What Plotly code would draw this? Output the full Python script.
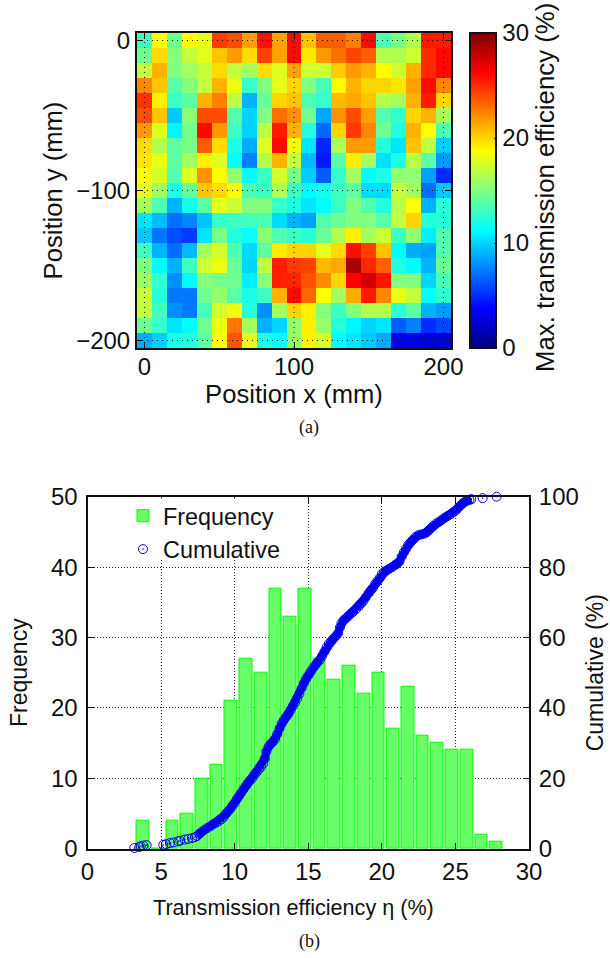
import plotly.graph_objects as go

W, H = 610, 958

# Panel (a): maximum transmission efficiency (%) per grid cell, row 0 is y = 0
pos_x = [10 * i for i in range(21)]
pos_y = [-10 * i for i in range(21)]
efficiency_map = [
    [13.2,18.75,14.5,18.8,18,24.5,24,21.5,25.8,21.5,26,20.5,23.5,23.5,22.5,26,13.5,14.8,16.5,25.5,25.5],
    [14.5,19.8,15.2,17,18,20.5,21.7,19.8,24.3,21.5,26,19.5,21.8,23,24.2,23.5,16.5,16.5,17.3,25,26],
    [17,21,15,16,17,19.8,17,16,19.7,17.8,21.5,17.3,17.3,20.3,21.7,21,18.8,17.3,21,25,26],
    [22.3,20.5,13.8,15.2,17,21,18.2,12.8,15,18,20,15,13.3,18.9,21,20,20,19.5,21.5,26,22.3],
    [24.8,19.2,13,14,21,22.5,16.8,9,14.3,20,20.5,13.5,12.8,20.8,21.3,20.5,16.5,16,21,25.5,20],
    [24,20.5,9.7,15.3,24,24,13.7,10,15,23,22,14.6,8.7,22,24,21.6,13.7,12.7,20,21,16],
    [21.7,17.8,11,14.7,26,21.8,13,10,16.8,25.5,21,12.2,6.8,20,24.5,22.3,14.5,12.3,21,18.8,13.5],
    [19.8,16.5,14,14.8,23.6,19.8,12,8.8,17.8,26,18.5,10.5,4.8,16.3,21.7,21.7,12.3,10.5,20.5,16.8,9.8],
    [19.5,18,14,16,19.2,17.8,11.3,7.5,16.5,21,17,9.2,4.5,13.8,19.3,16,10.4,12,16.7,14,8.3],
    [18.8,17.5,13.7,17.8,22,18.8,15.5,11.2,13,17.5,14.8,9.8,6.5,12.7,16,11.2,12,15.5,15.5,8.5,5],
    [18,16,12,14.3,20.5,19.8,18.6,13.5,13,16.5,13,11.1,11.8,13,14,10.2,10.2,17,16,7,9.7],
    [16,13.5,9,11.8,14,18,17.2,15,15,12.8,12,10.5,11.3,13,15,13.7,12.3,16.7,18.7,9,12.5],
    [10.5,9.3,7,7.7,9.5,12.8,13,13.2,13.5,10.2,9,8.5,13.7,14.4,15,15,13.8,16.9,20,12.3,12.3],
    [9.7,7.2,6,5.5,10.5,14.8,12.3,11.5,15.3,13.5,13,12.4,14.3,16.5,19.2,16,17.3,13,15.4,10.8,13.7],
    [13,9,7,9.2,16,17.5,13.5,10.2,14,19.3,20,20,18,19.8,25.8,24.4,20.5,11.2,8.8,8.5,13.7],
    [15,11.2,9,13,17.3,18.2,14.3,10,16.8,25.4,24.5,24.3,20.8,21.3,28.8,25.1,23.5,12.2,11.2,9,14.5],
    [15.8,12.8,8,11.2,15.2,14.8,14.5,10.8,15.2,25.3,25.2,23.8,22.2,20,26.3,27.5,25.7,15,15,10,13.3],
    [17.2,12.3,7.3,7.3,14.5,15.6,13.8,12,13,21,26,23.3,18.8,16,21.2,25.5,22.3,18,17,11.2,12.7],
    [17,13.2,8,7.3,13.3,17.5,18.3,12.3,8,16,20,19.2,15,13,15.2,16.5,16.5,12.5,14,9,8.3],
    [14.5,12.8,10.5,11.3,14.5,18.2,22.8,16,9,10,15.5,19.2,15.8,12.3,11,10,10.5,6.5,7.5,5,5.8],
    [8.8,9.8,12,12.3,14,18.7,23.8,18,12,11.2,15.8,19.1,17.5,11.3,10.5,9.7,8.7,3.3,3.3,2.8,3],
]
cbar_ticks = [0, 10, 20, 30]
a_ticks_x = [0, 100, 200]
a_ticks_y = [0, -100, -200]

# Panel (b): histogram
bin_centers = [3.77,4.77,5.77,6.77,7.77,8.77,9.77,10.77,11.77,12.77,13.77,14.77,15.77,
               16.77,17.77,18.77,19.77,20.77,21.77,22.77,23.77,24.77,25.77,26.77,27.77]
frequency = [4,0,4,5,10,12,21,27,25,37,33,37,27,24,26,22,25,17,23,16,15,14,14,2,1]

# Panel (b): cumulative curve, read along the ring markers
cum_x = [3.18,3.52,3.62,3.79,4.02,5.15,5.35,5.6,5.85,6.17,6.3,6.6,6.85,7.1,7.3,7.45,7.6,7.75,7.95,8.15,
         8.35,8.55,8.75,8.95,9.1,9.25,9.4,9.55,9.7,9.85,10.0,10.15,10.3,10.45,10.6,10.75,10.9,11.05,11.2,11.35,
         11.5,11.65,11.8,11.95,12.05,12.15,12.3,12.45,12.6,12.75,12.9,13.05,13.2,13.35,13.5,13.65,13.8,13.95,14.1,14.25,
         14.4,14.55,14.7,14.85,15.0,15.15,15.3,15.45,15.6,15.78,15.95,16.1,16.25,16.4,16.55,16.7,16.85,17.03,17.15,17.25,
         17.4,17.55,17.7,17.9,18.05,18.25,18.45,18.6,18.75,18.9,19.1,19.25,19.4,19.55,19.7,19.86,20.0,20.15,20.3,20.5,
         20.7,20.9,21.05,21.2,21.35,21.5,21.65,21.8,21.95,22.1,22.3,22.5,22.7,22.9,23.05,23.2,23.35,23.5,23.7,23.9,
         24.1,24.3,24.5,24.7,24.9,25.06,25.2,25.35,25.5,25.65,25.8,25.95,26.08,26.85,27.8]
cum_pct = [.2,.5,.7,.9,1.0,1.1,1.3,1.6,1.8,2.1,2.3,2.6,2.8,3.0,3.3,3.6,4.2,4.8,5.4,5.9,
           6.4,7.0,7.4,7.9,8.4,9.0,9.9,10.6,11.3,12.2,13.0,14.1,15.0,15.9,16.9,17.8,18.7,19.4,20.1,21.0,
           21.8,22.6,23.3,24.2,25.6,27.6,29.0,29.8,30.4,31.2,32.6,34.2,35.6,36.6,37.5,38.3,39.4,40.5,41.5,42.7,
           44.0,45.6,47.0,48.2,49.2,50.2,51.2,52.0,52.8,53.6,54.8,56.0,57.2,58.2,58.9,59.6,60.3,61.2,62.8,64.0,
           64.9,65.4,66.0,66.8,67.3,68.1,69.0,69.7,70.4,71.4,72.6,73.4,74.1,75.2,76.0,76.9,78.0,78.6,79.0,79.5,
           80.0,80.6,81.0,81.6,83.0,84.2,85.3,86.3,87.0,87.7,88.6,89.1,89.3,89.5,89.9,90.5,91.1,91.7,92.4,92.9,
           93.5,94.1,94.6,95.1,95.7,96.2,96.9,97.5,98.1,98.6,98.9,99.1,99.3,99.6,100]

px = lambda v: v / W
py = lambda v: 1 - v / H
FONT = "Liberation Sans, Arial, sans-serif"
INK = "#111111"
BLUE = "#0000ee"

jet = [[0, "rgb(0,0,127)"], [0.125, "rgb(0,0,255)"], [0.375, "rgb(0,255,255)"],
       [0.625, "rgb(255,255,0)"], [0.875, "rgb(255,0,0)"], [1, "rgb(127,0,0)"]]

fig = go.Figure()
fig.add_trace(go.Heatmap(
    x=pos_x, y=pos_y, z=efficiency_map, zmin=0, zmax=30, colorscale=jet,
    xaxis="x", yaxis="y", showlegend=False, xgap=0, ygap=0,
    colorbar=dict(
        x=px(470), xanchor="left", xpad=0, ypad=0, y=py(348), yanchor="bottom",
        lenmode="pixels", len=315, thicknessmode="pixels", thickness=26,
        outlinewidth=2, outlinecolor=INK, tickvals=cbar_ticks, ticks="inside", ticklen=3,
        tickcolor=INK, tickfont=dict(family=FONT, size=24, color=INK),
    ),
))
fig.add_trace(go.Bar(
    x=bin_centers, y=frequency, width=0.86, name="Frequency", xaxis="x2", yaxis="y2",
    marker=dict(color="#66ff66", line=dict(color="#00ff00", width=1)),
))
# The rings overlap into a solid band between 7.5 % and 26 %
fig.add_trace(go.Scatter(
    x=cum_x[15:-2], y=cum_pct[15:-2], mode="lines", showlegend=False, hoverinfo="skip",
    xaxis="x2", yaxis="y3", line=dict(color=BLUE, width=8),
))
fig.add_trace(go.Scatter(
    x=cum_x, y=cum_pct, mode="markers", name="Cumulative", xaxis="x2", yaxis="y3",
    cliponaxis=False,
    marker=dict(symbol="circle-open-dot", size=9, color=BLUE, line=dict(color=BLUE, width=1)),
))

common = dict(showline=True, linewidth=2, linecolor=INK, ticks="inside", ticklen=6,
              tickcolor=INK, tickwidth=1, zeroline=False)

shapes = []
for v in a_ticks_x:
    shapes.append(dict(type="line", xref="x", yref="y domain", x0=v, x1=v, y0=0, y1=1,
                       layer="above", line=dict(color="#111", width=1, dash="1px,4px")))
for v in a_ticks_y:
    shapes.append(dict(type="line", xref="x domain", yref="y", x0=0, x1=1, y0=v, y1=v,
                       layer="above", line=dict(color="#111", width=1, dash="1px,4px")))
# White patch behind the legend: it hides the grid there
shapes.append(dict(type="rect", xref="paper", yref="paper", x0=px(124), x1=px(300), y0=py(558), y1=py(498.5),
                   layer="above", line=dict(width=0), fillcolor="white"))


def note(text, x, y, size, family=FONT, angle=0):
    return dict(text=text, x=px(x), y=py(y), xref="paper", yref="paper", showarrow=False,
                xanchor="center", yanchor="middle", textangle=angle,
                font=dict(family=family, size=size, color=INK))


fig.update_layout(
    width=W, height=H, margin=dict(l=0, r=0, t=0, b=0, autoexpand=False), autosize=False,
    paper_bgcolor="white", plot_bgcolor="white", bargap=0,
    font=dict(family=FONT, color=INK),
    shapes=shapes,
    xaxis=dict(domain=[px(137), px(451)], range=[-5, 205], tickvals=a_ticks_x, anchor="y",
               mirror="ticks", showgrid=False, tickfont=dict(size=24), ticklabelstandoff=-4,
               title=dict(text="Position x (mm)", font=dict(size=25.6), standoff=0), **common),
    yaxis=dict(domain=[py(348), py(33)], range=[-205, 5], tickvals=a_ticks_y, anchor="x",
               mirror="ticks", showgrid=False, tickfont=dict(size=24),
               title=dict(text="Position y (mm)", font=dict(size=25.6), standoff=6), **common),
    xaxis2=dict(domain=[px(87.5), px(529)], range=[0, 30], dtick=5, anchor="y2", mirror="ticks",
                showgrid=True, gridcolor="#222", griddash="1px,2px", gridwidth=1,
                tickfont=dict(size=24), **common),
    yaxis2=dict(domain=[py(848.7), py(496.7)], range=[0, 50], dtick=10, anchor="x2",
                showgrid=True, gridcolor="#222", griddash="1px,2px", gridwidth=1,
                tickfont=dict(size=24), ticklabelstandoff=3,
                title=dict(text="Frequency", font=dict(size=23), standoff=17), **common),
    yaxis3=dict(domain=[py(848.7), py(496.7)], range=[0, 100], dtick=20, anchor="x2",
                overlaying="y2", side="right", showgrid=False, tickfont=dict(size=24),
                ticklabelstandoff=3,
                title=dict(text="Cumulative (%)", font=dict(size=23), standoff=9), **common),
    legend=dict(x=px(123), y=py(494), xanchor="left", yanchor="top", bgcolor="rgba(0,0,0,0)",
                borderwidth=0, font=dict(family=FONT, size=23.4, color=INK), itemwidth=30,
                tracegroupgap=0),
    annotations=[
        note("Max. transmission efficiency (%)", 545, 188, 25.8, angle=-90),
        note("Transmission efficiency η (%)", 293.5, 907, 21.6),
        note("(a)", 309, 427, 18, family="Liberation Serif, serif"),
        note("(b)", 309, 941, 18, family="Liberation Serif, serif"),
    ],
)

fig.write_html("out.html", post_script="document.body.style.margin='0';",
               config={"displayModeBar": False})
